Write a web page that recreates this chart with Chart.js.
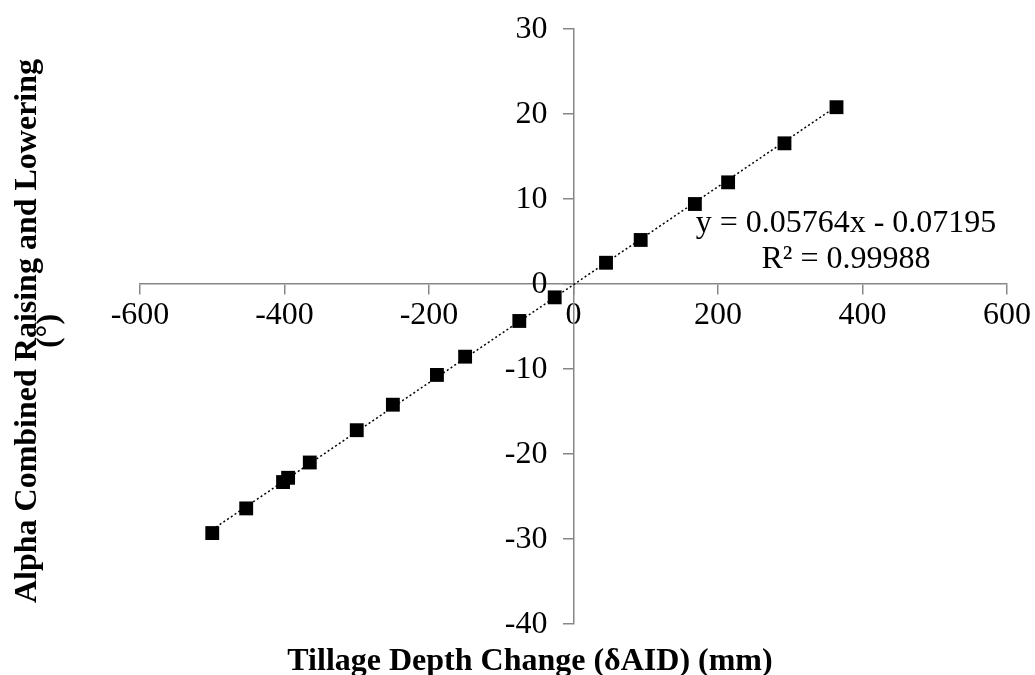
<!DOCTYPE html>
<html>
<head>
<meta charset="utf-8">
<script src="https://cdn.jsdelivr.net/npm/chart.js@4/dist/chart.umd.min.js"></script>
<style>
  html, body { margin: 0; padding: 0; background: #fff; }
  #wrap { width: 1035px; height: 675px; }
</style>
</head>
<body>
<div id="wrap"><canvas id="chart" width="1035" height="675"></canvas></div>
<script>
// Tillage depth change (mm) vs alpha angle (deg)
const depthChange = [-500, -453, -402, -395, -365, -300, -250, -189, -150, -75, -26, 45, 93, 168, 214, 292, 364]
const alphaAngle = [-29.3, -26.4, -23.3, -22.8, -21.0, -17.2, -14.2, -10.7, -8.55, -4.35, -1.57, 2.5, 5.18, 9.41, 11.96, 16.55, 20.8]

// trendline ends as drawn in the picture
const trendX = [-500, 364]
const trendY = [-28.9, 20.9]

const xTicks = [-600, -400, -200, 0, 200, 400, 600]
const yTicks = [-40, -30, -20, -10, 0, 10, 20, 30]

const equationLines = ['y = 0.05764x - 0.07195', 'R\u00b2 = 0.99988']
const xTitle = 'Tillage Depth Change (\u03b4AID) (mm)'
const yTitleLines = ['Alpha Combined Raising and Lowering', '(\u00b0)']

const serif = "'Liberation Serif', 'Times New Roman', serif"
const axisGray = '#878787'

const textPlugin = {
  id: 'textPlugin',
  afterDraw(chart) {
    const ctx = chart.ctx
    const xs = chart.scales.x
    const ys = chart.scales.y
    ctx.save()
    ctx.fillStyle = '#000'

    // y tick labels sit left of the centred axis (chart.js puts them on it)
    ctx.font = '32px ' + serif
    ctx.textAlign = 'right'
    ctx.textBaseline = 'middle'
    const axisX = xs.getPixelForValue(0)
    ys.ticks.forEach((t) => {
      ctx.fillText(String(t.value), axisX - 26, ys.getPixelForValue(t.value) + 1)
    })

    // regression equation
    ctx.textAlign = 'center'
    ctx.textBaseline = 'alphabetic'
    ctx.fillText(equationLines[0], 846, 232)
    ctx.fillText(equationLines[1], 846, 268)

    // axis titles
    ctx.font = 'bold 32px ' + serif
    ctx.fillText(xTitle, 530, 670)

    ctx.translate(0, 331)
    ctx.rotate(-Math.PI / 2)
    ctx.fillText(yTitleLines[0], 0, 36)
    ctx.fillText(yTitleLines[1], 0, 58)
    ctx.restore()
  }
}

const ctx = document.getElementById('chart').getContext('2d')
new Chart(ctx, {
  type: 'scatter',
  data: {
    datasets: [
      {
        label: 'Trend',
        data: trendX.map((x, i) => ({ x, y: trendY[i] })),
        showLine: true,
        borderColor: '#000',
        borderWidth: 1.5,
        borderDash: [2, 2.5],
        pointRadius: 0,
        order: 2
      },
      {
        label: 'Alpha',
        data: depthChange.map((x, i) => ({ x, y: alphaAngle[i] })),
        pointStyle: 'rect',
        pointRadius: 9.8,
        pointHoverRadius: 9.8,
        backgroundColor: '#000',
        borderColor: '#000',
        borderWidth: 0,
        order: 1
      }
    ]
  },
  options: {
    responsive: false,
    animation: false,
    events: [],
    layout: {
      padding: { left: 140, right: 28, top: 29, bottom: 51 }
    },
    plugins: {
      legend: { display: false },
      tooltip: { enabled: false }
    },
    scales: {
      x: {
        type: 'linear',
        position: { y: 0 },
        min: -600,
        max: 600,
        afterBuildTicks: (axis) => { axis.ticks = xTicks.map((v) => ({ value: v })) },
        border: { display: true, color: axisGray, width: 1.5 },
        grid: { display: true, drawOnChartArea: false, drawTicks: true, tickLength: 10, color: axisGray, lineWidth: 1.5 },
        ticks: {
          color: '#000',
          padding: 2,
          maxRotation: 0,
          autoSkip: false,
          font: { family: serif, size: 32 }
        }
      },
      y: {
        type: 'linear',
        position: { x: 0 },
        min: -40,
        max: 30,
        afterBuildTicks: (axis) => { axis.ticks = yTicks.map((v) => ({ value: v })) },
        border: { display: true, color: axisGray, width: 1.5 },
        grid: { display: true, drawOnChartArea: false, drawTicks: true, tickLength: 10, color: axisGray, lineWidth: 1.5 },
        ticks: {
          display: false,
          font: { family: serif, size: 32 }
        }
      }
    }
  },
  plugins: [textPlugin]
})
</script>
</body>
</html>
